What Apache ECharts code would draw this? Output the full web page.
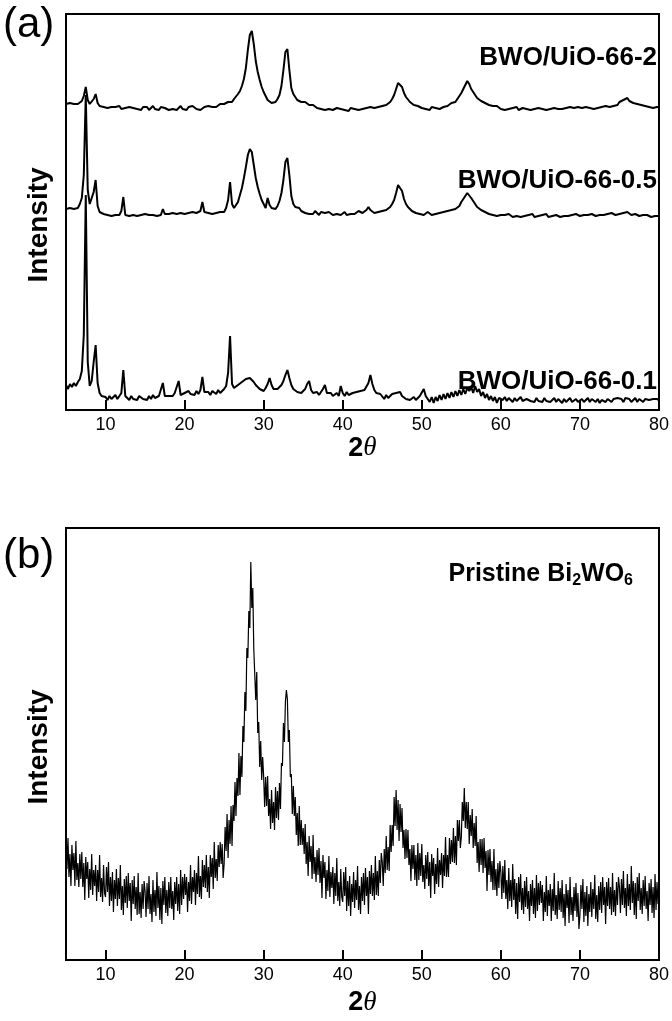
<!DOCTYPE html>
<html>
<head>
<meta charset="utf-8">
<title>XRD patterns</title>
<script src="https://cdn.jsdelivr.net/npm/echarts@6/dist/echarts.min.js"></script>
<style>
  html, body { margin: 0; padding: 0; background: #fff; }
  #chart { width: 672px; height: 1021px; }
</style>
</head>
<body>
<div id="chart"></div>
<script>
// 2θ sampling: every pattern starts at 5° and ends at 80°
const thetaStart = 5
const stepA = 0.25    // panel (a), 301 points
const stepB = 0.125   // panel (b), 601 points

const tickValues = [10, 20, 30, 40, 50, 60, 70, 80]

// (a) composites, intensities (a.u.) as plotted with their stacking offset
const bwoUio2 = [
  336, 334, 337, 335, 336, 334, 336, 338, 339, 344, 353, 340, 336, 337, 341, 346, 337, 334, 335, 333,
  334, 332, 334, 333, 331, 333, 332, 334, 331, 333, 332, 330, 333, 331, 332, 334, 331, 332, 330, 333,
  331, 333, 330, 332, 334, 331, 332, 330, 333, 331, 332, 334, 330, 332, 331, 333, 330, 332, 334, 331,
  332, 330, 333, 331, 334, 332, 331, 333, 330, 332, 333, 331, 334, 332, 333, 335, 333, 334, 336, 335,
  336, 335, 338, 339, 338, 341, 343, 346, 349, 354, 361, 372, 390, 405, 409, 396, 379, 368, 360, 353,
  348, 344, 340, 338, 337, 339, 338, 341, 345, 354, 370, 388, 391, 370, 352, 346, 343, 340, 341, 338,
  337, 338, 336, 335, 334, 335, 333, 332, 334, 331, 332, 330, 332, 331, 333, 330, 331, 332, 330, 331,
  332, 330, 331, 329, 332, 330, 331, 333, 330, 332, 331, 329, 332, 330, 333, 331, 332, 334, 333, 335,
  334, 336, 335, 337, 338, 341, 345, 351, 357, 359, 353, 347, 343, 341, 338, 337, 335, 336, 334, 333,
  332, 333, 331, 332, 330, 333, 331, 332, 334, 331, 332, 333, 335, 334, 336, 337, 339, 338, 341, 343,
  347, 351, 355, 359, 356, 351, 348, 345, 342, 341, 339, 338, 337, 336, 335, 336, 334, 333, 334, 332,
  331, 333, 330, 332, 331, 330, 332, 331, 333, 330, 331, 332, 330, 331, 333, 330, 332, 331, 330, 332,
  330, 331, 333, 330, 332, 331, 329, 332, 330, 331, 333, 331, 330, 332, 331, 333, 331, 332, 330, 333,
  331, 332, 330, 333, 331, 332, 334, 331, 333, 332, 331, 333, 332, 334, 332, 333, 335, 334, 336, 335,
  338, 337, 340, 339, 342, 339, 340, 337, 338, 336, 337, 335, 336, 334, 335, 333, 334, 332, 334, 333,
  333
]

const bwoUio05 = [
  231, 229, 232, 230, 231, 233, 232, 236, 242, 265, 345, 250, 236, 238, 248, 260, 234, 228, 227, 226,
  227, 225, 226, 224, 226, 225, 227, 225, 229, 243, 225, 226, 224, 226, 225, 227, 224, 226, 225, 224,
  226, 224, 225, 227, 225, 226, 224, 226, 225, 231, 226, 224, 226, 225, 227, 225, 226, 224, 227, 225,
  226, 225, 227, 226, 228, 226, 227, 225, 229, 238, 228, 226, 227, 229, 226, 228, 227, 229, 228, 227,
  228, 232, 240, 258, 236, 232, 235, 238, 245, 252, 262, 273, 285, 291, 288, 275, 262, 253, 246, 240,
  236, 232, 242, 235, 232, 233, 231, 234, 239, 247, 260, 278, 282, 265, 244, 236, 233, 231, 232, 229,
  228, 227, 229, 226, 228, 226, 229, 227, 225, 228, 226, 227, 225, 228, 226, 225, 227, 226, 228, 225,
  226, 228, 225, 227, 226, 228, 226, 227, 229, 228, 227, 229, 230, 233, 230, 228, 227, 229, 228, 230,
  229, 231, 230, 232, 233, 236, 240, 247, 255, 257, 249, 241, 236, 233, 231, 229, 228, 227, 228, 226,
  227, 225, 226, 228, 226, 225, 227, 226, 228, 227, 226, 228, 227, 229, 228, 230, 229, 231, 233, 234,
  238, 241, 244, 247, 245, 242, 239, 236, 233, 232, 230, 229, 228, 227, 226, 227, 225, 226, 224, 226,
  225, 223, 225, 224, 226, 224, 223, 225, 224, 226, 223, 225, 224, 222, 225, 224, 226, 223, 225, 224,
  223, 225, 224, 226, 223, 225, 224, 222, 225, 224, 223, 225, 224, 226, 224, 223, 225, 224, 226, 225,
  224, 226, 225, 223, 225, 224, 226, 225, 224, 226, 225, 227, 225, 224, 226, 225, 227, 226, 225, 227,
  226, 225, 227, 226, 228, 226, 225, 227, 226, 225, 224, 226, 225, 223, 225, 224, 223, 225, 224, 223,
  224
]

const bwoUio01 = [
  55, 51, 56, 53, 57, 54, 58, 61, 69, 105, 245, 78, 54, 59, 78, 95, 57, 47, 44, 42,
  43, 40, 44, 41, 43, 45, 41, 44, 47, 70, 44, 42, 40, 44, 41, 43, 40, 44, 42, 41,
  42, 40, 44, 41, 45, 42, 41, 44, 46, 57, 44, 42, 44, 46, 44, 47, 45, 59, 45, 44,
  47, 45, 49, 46, 48, 45, 49, 46, 50, 63, 48, 46, 48, 45, 49, 47, 46, 50, 47, 49,
  51, 54, 67, 104, 56, 52, 53, 55, 56, 58, 60, 61, 62, 62, 61, 58, 55, 53, 51, 50,
  49, 52, 56, 62, 55, 51, 49, 51, 52, 55, 59, 65, 70, 62, 55, 51, 50, 48, 49, 47,
  48, 51, 56, 59, 50, 47, 45, 48, 45, 47, 51, 55, 47, 45, 47, 44, 46, 47, 44, 54,
  47, 44, 48, 45, 44, 47, 45, 48, 46, 49, 47, 50, 52, 57, 65, 56, 50, 47, 49, 46,
  44, 41, 45, 42, 44, 46, 44, 47, 45, 48, 44, 43, 41, 43, 40, 42, 43, 40, 42, 44,
  45, 51, 44, 42, 38, 43, 37, 43, 39, 45, 40, 46, 41, 47, 42, 48, 43, 49, 44, 50,
  45, 51, 46, 52, 49, 53, 47, 54, 48, 51, 44, 48, 42, 46, 40, 44, 39, 43, 37, 42,
  42, 40, 43, 39, 42, 40, 38, 42, 39, 41, 43, 39, 38, 41, 42, 39, 41, 38, 42, 39,
  41, 38, 42, 39, 41, 38, 40, 42, 38, 41, 39, 37, 41, 38, 40, 42, 38, 40, 41, 38,
  40, 41, 38, 40, 42, 38, 41, 40, 38, 41, 37, 40, 42, 38, 41, 40, 38, 41, 40, 42,
  40, 41, 38, 42, 40, 41, 38, 40, 42, 38, 41, 40, 38, 41, 42, 40, 38, 41, 40, 41,
  40
]

// (b) pristine Bi2WO6, intensities (a.u.), 40 points per 5° row
const pristineBwo = [
  136, 91, 122, 83, 106, 74, 115, 90, 107, 74, 119, 80, 97, 73, 106, 81, 108, 73, 97, 60,
  103, 81, 98, 62, 91, 70, 106, 65, 90, 74, 95, 59, 90, 68, 105, 63, 82, 58, 95, 67,
  63, 93, 68, 98, 54, 83, 59, 88, 48, 80, 61, 91, 54, 82, 61, 95, 50, 74, 45, 81,
  57, 84, 52, 87, 59, 77, 39, 80, 56, 84, 51, 73, 45, 87, 46, 68, 42, 76, 51, 79,
  69, 43, 77, 51, 84, 46, 66, 38, 80, 48, 70, 44, 88, 52, 74, 40, 72, 36, 79, 55,
  83, 47, 70, 44, 78, 52, 83, 51, 69, 40, 78, 56, 83, 49, 76, 46, 90, 55, 83, 61,
  86, 65, 83, 48, 78, 59, 95, 56, 83, 68, 90, 55, 87, 66, 104, 63, 84, 61, 100, 73,
  95, 72, 105, 68, 93, 62, 105, 83, 102, 71, 118, 82, 101, 79, 115, 93, 118, 96, 116, 82,
  96, 133, 109, 146, 102, 140, 116, 154, 114, 155, 139, 178, 144, 182, 164, 207, 165, 204, 183, 234,
  218, 268, 249, 312, 302, 349, 332, 398, 352, 372, 311, 312, 260, 288, 227, 238, 193, 219, 180, 203,
  183, 153, 183, 154, 184, 144, 161, 131, 170, 137, 158, 130, 173, 142, 169, 140, 177, 151, 197, 194,
  237, 218, 258, 270, 261, 218, 230, 183, 186, 146, 174, 144, 163, 125, 147, 114, 154, 115, 140, 115,
  132, 106, 136, 96, 118, 84, 124, 98, 114, 81, 125, 86, 103, 78, 110, 85, 112, 77, 99, 62,
  105, 82, 98, 61, 90, 69, 104, 63, 88, 72, 93, 56, 87, 64, 102, 59, 78, 54, 91, 63,
  58, 88, 64, 93, 49, 79, 54, 84, 44, 76, 58, 88, 52, 80, 60, 94, 50, 74, 46, 83,
  59, 87, 55, 92, 64, 83, 46, 89, 66, 95, 64, 87, 60, 104, 65, 89, 64, 100, 77, 107,
  98, 74, 111, 87, 124, 90, 113, 89, 135, 108, 135, 114, 163, 134, 170, 130, 160, 119, 156, 128,
  152, 112, 130, 101, 131, 102, 130, 95, 111, 79, 115, 91, 115, 80, 105, 74, 117, 80, 107, 84,
  116, 78, 95, 71, 105, 81, 108, 74, 98, 62, 106, 84, 102, 66, 96, 76, 112, 73, 100, 85,
  107, 72, 105, 84, 123, 83, 105, 83, 122, 96, 120, 98, 132, 97, 124, 95, 140, 119, 140, 112,
  123, 158, 139, 172, 132, 158, 131, 158, 116, 145, 124, 151, 112, 137, 114, 144, 97, 118, 88, 121,
  95, 121, 87, 122, 92, 109, 69, 110, 85, 111, 78, 99, 70, 111, 70, 91, 64, 97, 72, 99,
  88, 61, 94, 67, 100, 61, 80, 51, 92, 59, 80, 53, 96, 60, 81, 46, 77, 41, 83, 58,
  86, 50, 72, 46, 79, 53, 83, 51, 69, 39, 76, 54, 80, 46, 72, 42, 85, 49, 77, 55,
  79, 57, 75, 39, 68, 48, 84, 44, 70, 54, 76, 39, 71, 49, 87, 45, 65, 41, 79, 50,
  72, 48, 80, 42, 66, 34, 76, 52, 70, 37, 83, 45, 63, 39, 73, 49, 77, 43, 67, 31,
  45, 75, 51, 81, 38, 68, 44, 74, 34, 66, 48, 78, 43, 71, 51, 85, 41, 65, 38, 74,
  50, 78, 47, 83, 55, 73, 36, 78, 54, 82, 51, 73, 45, 87, 48, 70, 44, 78, 55, 83,
  73, 47, 81, 55, 89, 52, 72, 44, 86, 54, 76, 50, 94, 57, 79, 45, 77, 41, 83, 59,
  87, 50, 72, 46, 80, 54, 84, 51, 69, 39, 77, 55, 81, 47, 73, 42, 86, 50, 78, 56,
  62
]

const labelsA = ['BWO/UiO-66-2', 'BWO/UiO-66-0.5', 'BWO/UiO-66-0.1']

const FONT = '"Liberation Sans", Arial, sans-serif'

const chart = echarts.init(document.getElementById('chart'))

function toPairs(arr, step) {
  return arr.map((v, i) => [thetaStart + i * step, v])
}

function makeXAxis(idx, nameGap) {
  return {
    type: 'value',
    gridIndex: idx,
    min: 5,
    max: 80,
    axisLine: { show: true, lineStyle: { color: '#000', width: 2 } },
    axisTick: {
      show: true,
      inside: true,
      length: 10,
      customValues: tickValues,
      lineStyle: { color: '#000', width: 2 }
    },
    axisLabel: {
      customValues: tickValues,
      color: '#000',
      fontSize: 18,
      fontFamily: FONT,
      margin: 6
    },
    splitLine: { show: false },
    name: '{n|2}{t|θ}',
    nameLocation: 'middle',
    nameGap: nameGap,
    nameTextStyle: {
      rich: {
        n: { fontSize: 27, fontWeight: 'bold', fontFamily: FONT, color: '#000' },
        t: { fontSize: 27, fontStyle: 'italic', fontFamily: '"Liberation Serif", serif', color: '#000' }
      }
    }
  }
}

function makeLine(data, step, idx, width) {
  return {
    type: 'line',
    xAxisIndex: idx,
    yAxisIndex: idx,
    data: toPairs(data, step),
    showSymbol: false,
    silent: true,
    lineStyle: { color: '#000', width: width }
  }
}

function label(text, x, y) {
  return {
    type: 'text',
    x: x,
    y: y,
    style: {
      text: text,
      fill: '#000',
      font: 'bold 26px ' + FONT,
      textAlign: 'right',
      textVerticalAlign: 'middle'
    }
  }
}

function yTitle(y) {
  return {
    type: 'text',
    x: 39,
    y: y,
    rotation: Math.PI / 2,
    style: { text: 'Intensity', fill: '#000', font: 'bold 28px ' + FONT, textAlign: 'center', textVerticalAlign: 'middle' }
  }
}

const options = {
  animation: false,
  backgroundColor: '#fff',
  grid: [
    { left: 66, right: 11, top: 14, height: 396, show: true, borderColor: '#000', borderWidth: 2 },
    { left: 66, right: 11, top: 528, height: 432, show: true, borderColor: '#000', borderWidth: 2 }
  ],
  xAxis: [makeXAxis(0, 23), makeXAxis(1, 29)],
  yAxis: [
    { type: 'value', gridIndex: 0, min: 30, max: 426, show: false },
    { type: 'value', gridIndex: 1, min: 0, max: 432, show: false }
  ],
  series: [
    makeLine(bwoUio2, stepA, 0, 2),
    makeLine(bwoUio05, stepA, 0, 2),
    makeLine(bwoUio01, stepA, 0, 2),
    makeLine(pristineBwo, stepB, 1, 1.2)
  ],
  graphic: [
    { type: 'text', x: 3, y: 25, style: { text: '(a)', fill: '#000', font: '42px ' + FONT, textVerticalAlign: 'middle' } },
    { type: 'text', x: 3, y: 556, style: { text: '(b)', fill: '#000', font: '42px ' + FONT, textVerticalAlign: 'middle' } },
    yTitle(225),
    yTitle(747),
    label(labelsA[0], 657, 58),
    label(labelsA[1], 657, 181),
    label(labelsA[2], 657, 382),
    {
      type: 'text',
      x: 633,
      y: 574,
      style: {
        text: '{n|Pristine Bi}{s|2}{n|WO}{s|6}',
        textAlign: 'right',
        textVerticalAlign: 'middle',
        rich: {
          n: { fontSize: 25, fontWeight: 'bold', fontFamily: FONT, fill: '#000', lineHeight: 30 },
          s: { fontSize: 16, fontWeight: 'bold', fontFamily: FONT, fill: '#000', lineHeight: 14, verticalAlign: 'bottom' }
        }
      }
    }
  ]
}

chart.setOption(options)
</script>
</body>
</html>
